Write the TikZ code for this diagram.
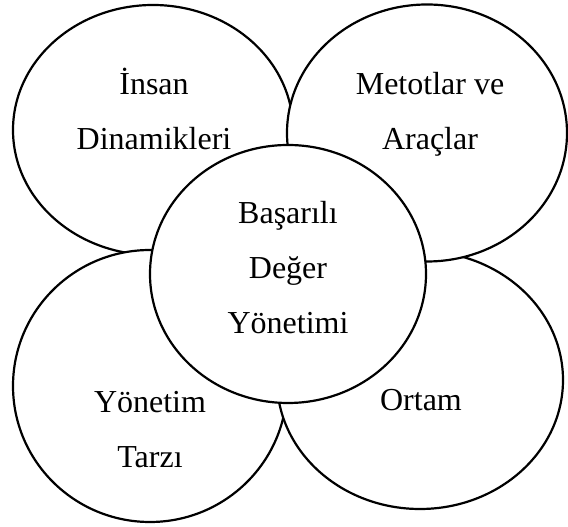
\documentclass[tikz,border=0pt]{standalone}
\usepackage{fontspec}
\setmainfont{Liberation Serif}
\usepackage{tikz}
\usetikzlibrary{shapes.geometric,positioning}

\begin{document}
\begin{tikzpicture}[x=1pt, y=1pt,
  petal/.style={ellipse, draw=black, line width=2.2pt, fill=white, inner sep=0pt},
  lbl/.style={font=\fontsize{32}{55}\selectfont, align=center, anchor=base, inner sep=0pt}]
  \useasboundingbox (0,0) rectangle (568,527);
  % outer petals, drawn back to front
  \node[petal, minimum width=280, minimum height=250] (insan) at (153,397) {};
  \node[petal, minimum width=274, minimum height=272] (tarz) at (150,141) {};
  \node[petal, minimum width=286, minimum height=258] (ortam) at (420,147) {};
  \node[petal, minimum width=280, minimum height=257] (metot) at (427,394) {};
  % hub
  \node[petal, minimum width=276, minimum height=258] (hub) at (288,253) {};
  % labels (anchored on the baseline of the last line)
  \node[lbl] (insan-t) at (154,377) {İnsan\\Dinamikleri};
  \node[lbl] (metot-t) at (430,377) {Metotlar ve\\Araçlar};
  \node[lbl] (hub-t) at (288,193) {Başarılı\\Değer\\Yönetimi};
  \node[lbl] (tarz-t) at (150,59) {Yönetim\\Tarzı};
  \node[lbl] (ortam-t) at (421,116) {Ortam};
\end{tikzpicture}
\end{document}
